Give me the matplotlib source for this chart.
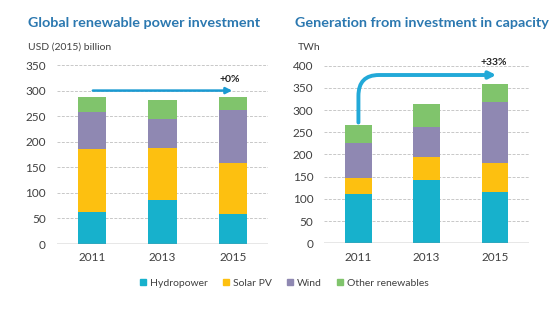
import numpy as np
import matplotlib.pyplot as plt
from matplotlib.path import Path
from matplotlib.patches import FancyArrowPatch
from matplotlib.lines import Line2D

years = ['2011', '2013', '2015']
series = ['Hydropower', 'Solar PV', 'Wind', 'Other renewables']
colors = ['#17b1cc', '#fdc010', '#8f88b2', '#80c46c']

# investment, USD (2015) billion
inv_hydro = [62, 86, 58]
inv_solar = [123, 101, 100]
inv_wind = [73, 57, 104]
inv_other = [30, 37, 26]

# generation, TWh
gen_hydro = [110, 143, 116]
gen_solar = [36, 52, 64]
gen_wind = [81, 67, 138]
gen_other = [39, 52, 40]

plt.rcParams['font.family'] = ['Lato', 'DejaVu Sans']
fig = plt.figure(figsize=(5.54, 3.22), dpi=100)
ax1 = fig.add_axes([0.1029, 0.2422, 0.381, 0.5559])
ax2 = fig.add_axes([0.5854, 0.2444, 0.3695, 0.5516])

title_c = '#2b78b0'
arrow_c = '#22a9d8'
tick_c = '#404040'


def stacked(ax, data, ymax, step, width):
    x = np.arange(len(years))
    bottom = np.zeros(len(years))
    for vals, c in zip(data, colors):
        ax.bar(x, vals, width, bottom=bottom, color=c, zorder=3)
        bottom += np.array(vals)
    ax.set_xlim(-0.5, 2.5)
    ax.set_ylim(0, ymax)
    ax.set_yticks(np.arange(0, ymax + 1, step))
    ax.set_xticks(x)
    ax.set_xticklabels(years)
    for s in ax.spines.values():
        s.set_visible(False)
    ax.tick_params(length=0, labelsize=8.5, colors=tick_c)
    ax.tick_params(axis='y', pad=8)
    ax.tick_params(axis='x', pad=6)
    ax.yaxis.grid(True, color='#c8c8c8', linestyle=(0, (3, 1.5)), linewidth=0.7, zorder=0)
    ax.axhline(0, color='#888888', linewidth=1.0, zorder=4)
    return bottom


stacked(ax1, [inv_hydro, inv_solar, inv_wind, inv_other], 350, 50, 0.40)
stacked(ax2, [gen_hydro, gen_solar, gen_wind, gen_other], 400, 50, 0.39)

# left arrow
ax1.annotate('', xy=(2.03, 300), xytext=(-0.03, 300),
             arrowprops=dict(arrowstyle='-|>', color='#1a9ad2', lw=1.8, mutation_scale=9), zorder=5)
ax1.text(1.95, 312, '+0%', ha='center', va='bottom', fontsize=7.5, fontweight='bold', color='#222222')

# right arrow with a rounded corner
p = Path([(0, 272), (0, 332), (0, 379), (0.3, 379), (2.02, 379)],
         [Path.MOVETO, Path.LINETO, Path.CURVE3, Path.CURVE3, Path.LINETO])
arr = FancyArrowPatch(path=p, arrowstyle='-|>', color=arrow_c, lw=2.8, mutation_scale=10, zorder=5)
ax2.add_patch(arr)
ax2.text(1.99, 396, '+33%', ha='center', va='bottom', fontsize=7.5, fontweight='bold', color='#222222')

fig.text(0.05, 0.93, 'Global renewable power investment', fontsize=10.4, fontweight='bold', color=title_c, va='center')
fig.text(0.532, 0.93, 'Generation from investment in capacity', fontsize=10.4, fontweight='bold', color=title_c, va='center')
fig.text(0.05, 0.853, 'USD (2015) billion', fontsize=7.5, color=tick_c, va='center')
fig.text(0.538, 0.853, 'TWh', fontsize=7.5, color=tick_c, va='center')

handles = [Line2D([], [], marker='s', linestyle='none', markersize=5, color=c) for c in colors]
fig.legend(handles, series, loc='center', bbox_to_anchor=(0.513, 0.121), ncol=4, frameon=False,
           fontsize=7.5, handlelength=0.7, handletextpad=0.3, columnspacing=1.4, labelcolor=tick_c)

fig.savefig('out.png', dpi=100)
